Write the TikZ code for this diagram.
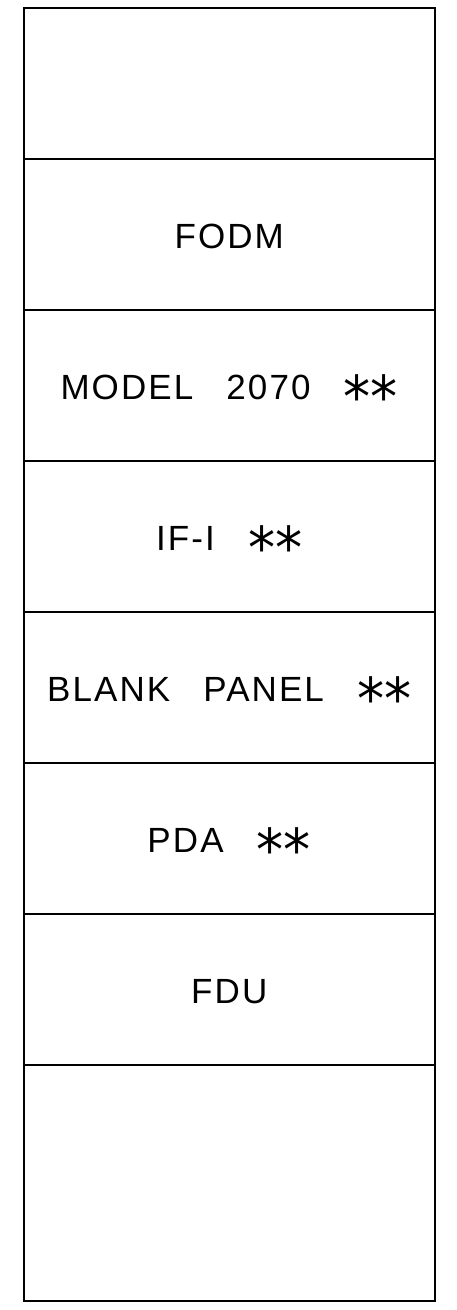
\documentclass[tikz,border=0pt]{standalone}
\usepackage{fontspec}
\setmainfont{Liberation Sans}[LetterSpace=6, WordSpace=2.8]
\newfontfamily\starfont{DejaVu Sans}
\newcommand\pstar{\raisebox{-18pt}{\scalebox{1.55}[1.65]{\starfont *}}}
\begin{document}
\begin{tikzpicture}[x=1pt,y=1pt,
  panel/.style={draw=black, line width=2pt, minimum width=411.5pt, inner sep=0pt, outer sep=0pt,
    font=\fontsize{35}{40}\selectfont, text height=28pt, text depth=0pt}]
\useasboundingbox (0,0) rectangle (457,-1310);
\node[panel, minimum height=151pt] (s1) at (229.25,-83) {};
\node[panel, minimum height=151pt] (s2) at (229.25,-234) {FODM};
\node[panel, minimum height=151pt] (s3) at (229.25,-385) {MODEL 2070 \pstar\pstar};
\node[panel, minimum height=151pt] (s4) at (229.25,-536) {IF-I \pstar\pstar};
\node[panel, minimum height=151pt] (s5) at (229.25,-687) {BLANK PANEL \pstar\pstar};
\node[panel, minimum height=151pt] (s6) at (229.25,-838) {PDA \pstar\pstar};
\node[panel, minimum height=151pt] (s7) at (229.25,-989) {FDU};
\node[panel, minimum height=236.5pt] (s8) at (229.25,-1182.75) {};
\end{tikzpicture}
\end{document}
